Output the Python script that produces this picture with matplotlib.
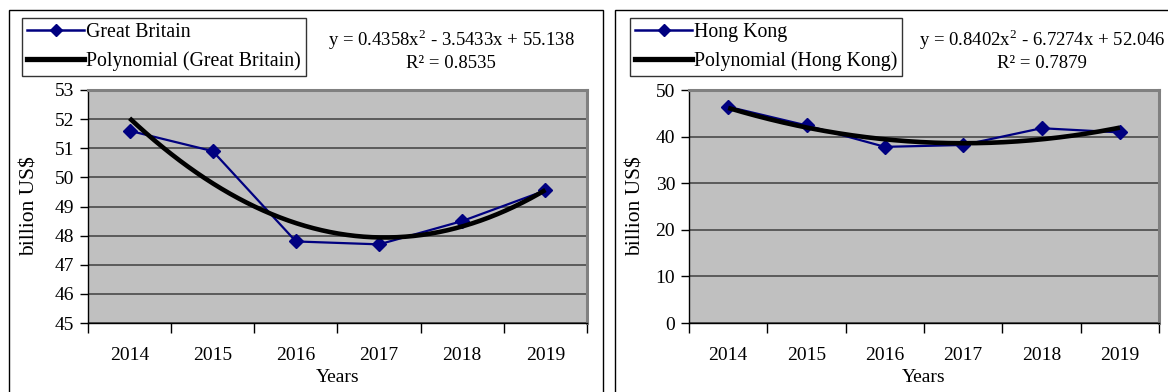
import numpy as np
import matplotlib
matplotlib.use("Agg")
import matplotlib.pyplot as plt
from matplotlib.lines import Line2D
from matplotlib.patches import Rectangle

plt.rcParams['font.family'] = ['Liberation Serif', 'DejaVu Serif']
plt.rcParams['mathtext.fontset'] = 'custom'
plt.rcParams['mathtext.rm'] = 'Liberation Serif'

years = ["2014", "2015", "2016", "2017", "2018", "2019"]
gb_values = [51.6, 50.9, 47.8, 47.7, 48.5, 49.55]
hk_values = [46.4, 42.4, 37.8, 38.2, 41.8, 40.9]

# quadratic trendline coefficients (x = 1..6) and R² as printed
gb_coef = [0.4358, -3.5433, 55.138]
gb_r2 = 0.8535
hk_coef = [0.8402, -6.7274, 52.046]
hk_r2 = 0.7879

W, H = 1168, 392
fig = plt.figure(figsize=(W / 100, H / 100), dpi=100)
fig.patch.set_facecolor("white")

TICK_FS = 14
EQ_FS = 13.5
LEG_FS = 14.3
YLAB_FS = 15.5
XLAB_FS = 14
SERIES_COLOR = "#000080"


def px_axes(x0, y0, x1, y1):
    return fig.add_axes([x0 / W, 1 - y1 / H, (x1 - x0) / W, (y1 - y0) / H])


def fmt_coef(c):
    return f"{abs(c):g}"


def panel(box, ax_box, values, coef, r2, name, ylim, yticks, eq_x, legend_box):
    # panel frame
    fig.add_artist(Rectangle((box[0] / W, 1 - box[3] / H),
                             (box[2] - box[0]) / W, (box[3] - box[1]) / H,
                             transform=fig.transFigure, fill=False,
                             edgecolor="black", linewidth=1.0))
    ax = px_axes(*ax_box)
    ax.set_facecolor("#C0C0C0")
    x = np.arange(len(values))
    ax.plot(x, values, color=SERIES_COLOR, lw=1.6, marker="D",
            markersize=7.5, markerfacecolor=SERIES_COLOR,
            markeredgecolor=SERIES_COLOR, zorder=3)
    xs = np.linspace(0, len(values) - 1, 200)
    ax.plot(xs, np.polyval(coef, xs + 1), color="black", lw=3.3,
            solid_capstyle="butt", zorder=4)

    ax.set_xlim(-0.5, len(values) - 0.5)
    ax.set_ylim(*ylim)
    ax.set_yticks(yticks)
    ax.set_yticklabels([str(t) for t in yticks], fontsize=TICK_FS)
    ax.set_xticks(np.arange(-0.5, len(values), 1.0))
    ax.set_xticklabels([])
    ax.set_xticks(x, minor=True)
    ax.set_xticklabels(years, minor=True, fontsize=TICK_FS)
    ax.tick_params(axis="x", which="major", length=7, width=1, direction="out",
                   color="black")
    ax.tick_params(axis="x", which="minor", length=0, pad=17)
    ax.tick_params(axis="y", length=6, width=1, direction="out", pad=4,
                   color="black")
    ax.grid(axis="y", color="#404040", lw=1.1)
    ax.set_axisbelow(True)
    for s in ("top", "right"):
        ax.spines[s].set_color("#808080")
        ax.spines[s].set_linewidth(2.2)
    for s in ("left", "bottom"):
        ax.spines[s].set_color("black")
        ax.spines[s].set_linewidth(1.0)

    cx = (ax_box[0] + ax_box[2]) / 2
    cy = (ax_box[1] + ax_box[3]) / 2
    fig.text(cx / W, 1 - 378 / H, "Years", ha="center", va="center",
             fontsize=XLAB_FS)
    fig.text((box[0] + 21) / W, 1 - cy / H, "billion US$", ha="center",
             va="center", rotation=90, fontsize=YLAB_FS)

    eq = (f"y = {fmt_coef(coef[0])}x$^{{2}}$ "
          f"{'-' if coef[1] < 0 else '+'} {fmt_coef(coef[1])}x "
          f"{'-' if coef[2] < 0 else '+'} {fmt_coef(coef[2])}")
    fig.text(eq_x / W, 1 - 40 / H, eq, ha="center", va="center", fontsize=EQ_FS)
    fig.text(eq_x / W, 1 - 63 / H, f"R² = {r2:.4f}", ha="center", va="center",
             fontsize=EQ_FS)

    handles = [
        Line2D([], [], color=SERIES_COLOR, lw=1.8, marker="D", markersize=6,
               markerfacecolor=SERIES_COLOR, markeredgecolor=SERIES_COLOR),
        Line2D([], [], color="black", lw=3.8),
    ]
    leg = fig.legend(handles, [name, f"Polynomial ({name})"],
                     loc="upper left",
                     bbox_to_anchor=(legend_box[0] / W, 1 - legend_box[1] / H),
                     bbox_transform=fig.transFigure,
                     fontsize=LEG_FS, frameon=True, fancybox=False,
                     edgecolor="black", handlelength=2.9, handletextpad=0.1,
                     borderpad=0.24, labelspacing=0.5, borderaxespad=0,
                     markerscale=1.0)
    leg.get_frame().set_linewidth(1.0)
    return ax


panel((9, 10, 603, 400), (88, 90, 587, 323), gb_values, gb_coef, gb_r2,
      "Great Britain", (45, 53), list(range(45, 54)), 451, (22, 18))
panel((615, 10, 1175, 400), (689, 90, 1159, 323), hk_values, hk_coef, hk_r2,
      "Hong Kong", (0, 50), list(range(0, 51, 10)), 1042, (630, 18))

fig.savefig("out.png", dpi=100)
